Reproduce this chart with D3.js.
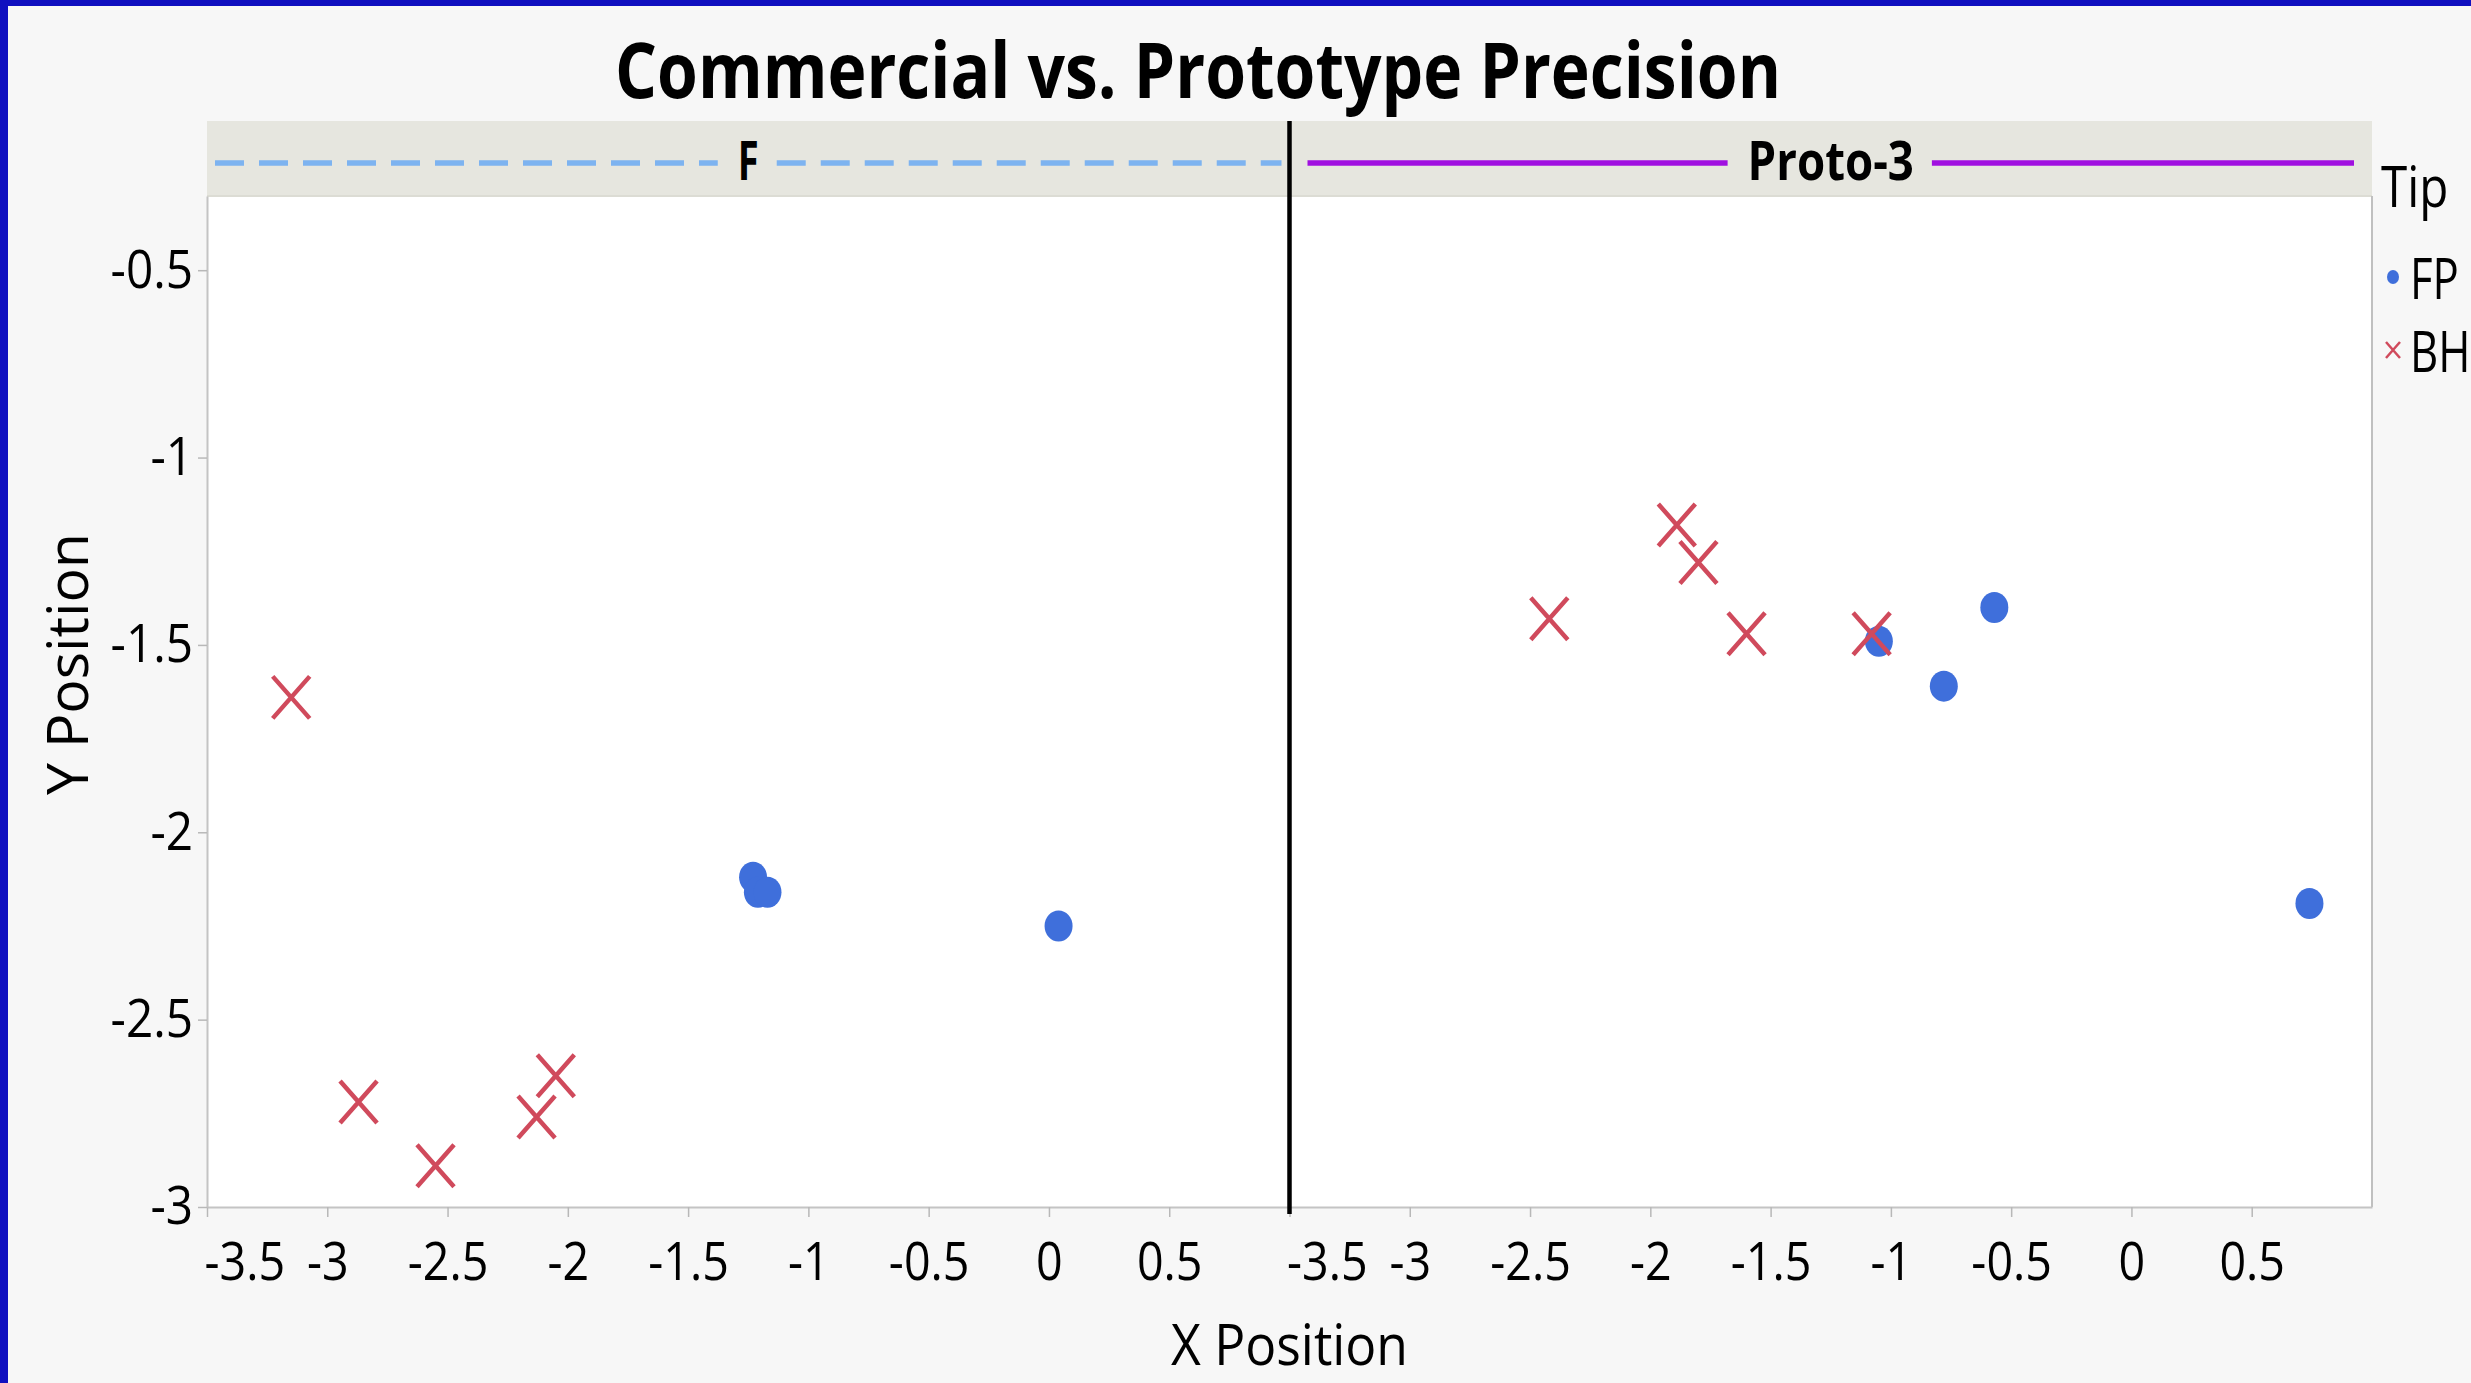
<!DOCTYPE html>
<html>
<head>
<meta charset="utf-8">
<script src="https://cdn.jsdelivr.net/npm/d3@7"></script>
<style>
  body { margin: 0; background: #f7f7f7; }
  svg { display: block; font-family: "Open Sans", "Noto Sans", sans-serif; }
</style>
</head>
<body>
<svg id="chart" width="2471" height="1383"></svg>
<script>
// ---- data ----
const panels = ["F", "Proto-3"];
const tipLevels = ["FP", "BH"];
const xTicks = [-3.5, -3, -2.5, -2, -1.5, -1, -0.5, 0, 0.5];
const yTicks = [-0.5, -1, -1.5, -2, -2.5, -3];

// panel F
const fpF_x = [-1.23, -1.21, -1.17, 0.04];
const fpF_y = [-2.12, -2.16, -2.16, -2.25];
const bhF_x = [-3.15, -2.87, -2.55, -2.13, -2.05];
const bhF_y = [-1.64, -2.72, -2.89, -2.76, -2.65];
// panel Proto-3
const fpP_x = [-1.05, -0.57, -0.78, 0.74];
const fpP_y = [-1.49, -1.40, -1.61, -2.19];
const bhP_x = [-2.42, -1.89, -1.80, -1.60, -1.08];
const bhP_y = [-1.43, -1.18, -1.28, -1.47, -1.47];

const xDomain = [-3.5, 1.0];
const yDomain = [-3, -0.302];

// ---- layout ----
const W = 2471, H = 1383;
const plot = { left: 207, right: 2372, top: 196, bottom: 1207, stripTop: 121 };
const panelW = (plot.right - plot.left) / panels.length;
const tipColor = { FP: "#3f6fdb", BH: "#d04a5c" };
const stripLine = [
  { color: "#7db3f0", dash: "29,15", inset: 8 },
  { color: "#a010e0", dash: null, inset: 18 }
];

const panelData = [
  { FP: d3.zip(fpF_x, fpF_y), BH: d3.zip(bhF_x, bhF_y) },
  { FP: d3.zip(fpP_x, fpP_y), BH: d3.zip(bhP_x, bhP_y) }
];

const svg = d3.select("#chart");

// squeeze text horizontally to a narrower face
function condense(sel, k) {
  sel.each(function () {
    const n = this.getComputedTextLength();
    d3.select(this).attr("textLength", n * k).attr("lengthAdjust", "spacingAndGlyphs");
  });
}

// background and frame
svg.append("rect").attr("width", W).attr("height", H).attr("fill", "#f7f7f7");
svg.append("rect").attr("x", 0).attr("y", 0).attr("width", 8).attr("height", H).attr("fill", "#1010c0");
svg.append("rect").attr("x", 0).attr("y", 0).attr("width", W).attr("height", 6).attr("fill", "#1010c0");

svg.append("rect")
  .attr("x", plot.left).attr("y", plot.top)
  .attr("width", plot.right - plot.left).attr("height", plot.bottom - plot.top)
  .attr("fill", "#ffffff");

svg.append("rect")
  .attr("x", plot.left).attr("y", plot.stripTop)
  .attr("width", plot.right - plot.left).attr("height", plot.top - plot.stripTop)
  .attr("fill", "#e6e6df");
svg.append("line")
  .attr("x1", plot.left).attr("x2", plot.right)
  .attr("y1", plot.top).attr("y2", plot.top)
  .attr("stroke", "#dcdcd4").attr("stroke-width", 2);

// right border
svg.append("line")
  .attr("x1", plot.right).attr("x2", plot.right)
  .attr("y1", plot.top).attr("y2", plot.bottom)
  .attr("stroke", "#c0c0c0").attr("stroke-width", 2);

// title
svg.append("text")
  .attr("x", 1198).attr("y", 98)
  .attr("text-anchor", "middle")
  .attr("font-size", 77).attr("font-weight", 700)
  .attr("fill", "#000")
  .attr("textLength", 1166).attr("lengthAdjust", "spacingAndGlyphs")
  .text("Commercial vs. Prototype Precision");

const y = d3.scaleLinear().domain(yDomain).range([plot.bottom, plot.top]);

const fmt = v => String(v);

panels.forEach((name, i) => {
  const x0 = plot.left + i * panelW, x1 = x0 + panelW;
  const x = d3.scaleLinear().domain(xDomain).range([x0, x1]);
  const g = svg.append("g");

  // strip label with its line on both sides
  const cx = (x0 + x1) / 2;
  const label = g.append("text")
    .attr("x", cx).attr("y", 180)
    .attr("text-anchor", "middle")
    .attr("font-size", 53).attr("font-weight", 700)
    .attr("fill", "#000")
    .text(name);
  condense(label, name.length > 1 ? 0.86 : 0.72);
  const tw = +label.attr("textLength");
  const st = stripLine[i];
  const segs = [[x0 + st.inset, cx - tw / 2 - 20], [cx + tw / 2 + 18, x1 - st.inset]];
  segs.forEach(([a, b]) => {
    g.append("line")
      .attr("x1", a).attr("x2", b).attr("y1", 163).attr("y2", 163)
      .attr("stroke", st.color).attr("stroke-width", 5.5)
      .attr("stroke-dasharray", st.dash);
  });

  // x axis
  const ax = g.append("g")
    .attr("transform", `translate(0,${plot.bottom})`)
    .call(d3.axisBottom(x).tickValues(xTicks).tickFormat(fmt)
      .tickSize(10).tickSizeOuter(0).tickPadding(25));
  ax.select(".domain").attr("stroke", "#c4c4c4").attr("stroke-width", 2);
  ax.selectAll(".tick line").attr("stroke", "#b8b8b8").attr("stroke-width", 1.5);
  ax.selectAll(".tick text")
    .attr("font-size", 53).attr("fill", "#000")
    .attr("font-family", "'Open Sans', sans-serif");
  condense(ax.selectAll(".tick text"), 0.88);
  // keep the edge label inside the panel
  ax.selectAll(".tick text").filter(d => d === xDomain[0])
    .attr("text-anchor", "start").attr("x", -3);

  // points: FP first, BH on top
  g.selectAll("ellipse.fp")
    .data(panelData[i].FP)
    .join("ellipse")
    .attr("class", "fp")
    .attr("cx", d => x(d[0])).attr("cy", d => y(d[1]))
    .attr("rx", 14).attr("ry", 15.5)
    .attr("fill", tipColor.FP);

  g.selectAll("path.bh")
    .data(panelData[i].BH)
    .join("path")
    .attr("class", "bh")
    .attr("transform", d => `translate(${x(d[0])},${y(d[1])})`)
    .attr("d", "M-18.5,-21L18.5,21M-18.5,21L18.5,-21")
    .attr("fill", "none")
    .attr("stroke", tipColor.BH)
    .attr("stroke-width", 4.5);
});

// y axis
const ay = svg.append("g")
  .attr("transform", `translate(${plot.left},0)`)
  .call(d3.axisLeft(y).tickValues(yTicks).tickFormat(fmt)
    .tickSize(9).tickSizeOuter(0).tickPadding(5));
ay.select(".domain").attr("stroke", "#c4c4c4").attr("stroke-width", 2);
ay.selectAll(".tick line").attr("stroke", "#b8b8b8").attr("stroke-width", 1.5);
ay.selectAll(".tick text")
  .attr("font-size", 53).attr("fill", "#000")
  .attr("font-family", "'Open Sans', sans-serif");
condense(ay.selectAll(".tick text"), 0.9);

// panel divider
svg.append("line")
  .attr("x1", plot.left + panelW).attr("x2", plot.left + panelW)
  .attr("y1", plot.stripTop).attr("y2", plot.bottom + 7)
  .attr("stroke", "#000").attr("stroke-width", 4.5);

// axis titles
svg.append("text")
  .attr("x", (plot.left + plot.right) / 2).attr("y", 1365)
  .attr("text-anchor", "middle")
  .attr("font-size", 57).attr("fill", "#000")
  .attr("textLength", 237).attr("lengthAdjust", "spacingAndGlyphs")
  .text("X Position");

svg.append("text")
  .attr("transform", `translate(88,${(plot.stripTop + plot.bottom) / 2}) rotate(-90)`)
  .attr("text-anchor", "middle")
  .attr("font-size", 57).attr("fill", "#000")
  .attr("textLength", 262).attr("lengthAdjust", "spacingAndGlyphs")
  .text("Y Position");

// legend
const leg = svg.append("g");
leg.append("text")
  .attr("x", 2381).attr("y", 207)
  .attr("font-size", 56).attr("fill", "#000")
  .text("Tip");
condense(leg.selectAll("text"), 0.85);

tipLevels.forEach((t, k) => {
  const cy = 277 + k * 73;
  if (t === "FP") {
    leg.append("ellipse").attr("cx", 2393).attr("cy", cy).attr("rx", 6).attr("ry", 7).attr("fill", tipColor.FP);
  } else {
    leg.append("path")
      .attr("transform", `translate(2393,${cy})`)
      .attr("d", "M-7,-8L7,8M-7,8L7,-8")
      .attr("fill", "none").attr("stroke", tipColor.BH).attr("stroke-width", 2.5);
  }
  const tx = leg.append("text")
    .attr("x", 2410).attr("y", cy + 22)
    .attr("font-size", 56).attr("fill", "#000")
    .text(t);
  condense(tx, 0.78);
});
</script>
</body>
</html>
